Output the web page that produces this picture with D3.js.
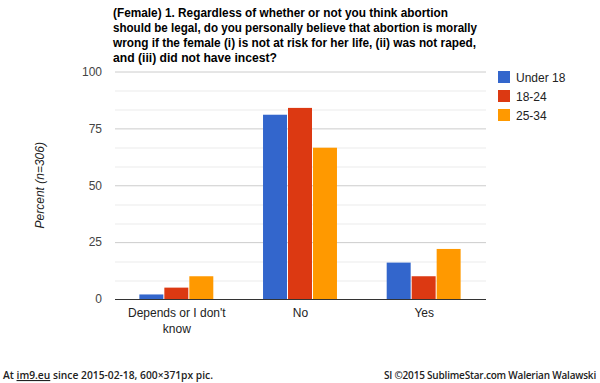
<!DOCTYPE html>
<html>
<head>
<meta charset="utf-8">
<script src="https://cdn.jsdelivr.net/npm/d3@7"></script>
<style>
  body { margin: 0; background: #fff; }
  text { font-family: Arial, "Liberation Sans", sans-serif; }
</style>
</head>
<body>
<div id="chart"></div>
<script>
// data
const categories = ["Depends or I don't know", "No", "Yes"];
const series = ["Under 18", "18-24", "25-34"];
const under18 = [2, 81, 16];
const age18to24 = [5, 84, 10];
const age25to34 = [10, 66.5, 22];
const yTicks = [0, 25, 50, 75, 100];
const titleLines = [
  "(Female) 1. Regardless of whether or not you think abortion",
  "should be legal, do you personally believe that abortion is morally",
  "wrong if the female (i) is not at risk for her life, (ii) was not raped,",
  "and (iii) did not have incest?"
];
const colors = ["#3366cc", "#dc3912", "#ff9900"];

const width = 600, height = 383;
const margin = {top: 71.5, right: 114, bottom: 84, left: 115};
const plotW = width - margin.left - margin.right,
      plotH = height - margin.top - margin.bottom;

const table = categories.map((c, i) => ({
  name: c,
  values: [under18[i], age18to24[i], age25to34[i]]
}));

const root = d3.select("#chart")
  .append("svg")
  .attr("width", width)
  .attr("height", height);

root.append("rect").attr("width", width).attr("height", height).attr("fill", "#fff");

// title, squeezed to the widths seen in the picture
const titleWidths = [335, 364, 363, 164];
root.append("g")
  .selectAll("text")
  .data(titleLines)
  .enter()
  .append("text")
    .attr("x", 113)
    .attr("y", (d, i) => 17 + i * 15)
    .attr("font-size", 12.5)
    .attr("font-weight", "bold")
    .attr("fill", "#000")
    .attr("textLength", (d, i) => titleWidths[i])
    .attr("lengthAdjust", "spacingAndGlyphs")
    .text(d => d);

const svg = root.append("g")
  .attr("transform", `translate(${margin.left},${margin.top})`);

const y = d3.scaleLinear().domain([0, 100]).range([plotH, 0]);

// minor gridlines (thirds between major ticks)
const minor = d3.range(0, 100, 25 / 3).filter((d, i) => i % 3 !== 0);
svg.append("g")
  .selectAll("line")
  .data(minor)
  .enter()
  .append("line")
    .attr("x1", 0).attr("x2", plotW)
    .attr("y1", d => Math.round(y(d)) + 0.5)
    .attr("y2", d => Math.round(y(d)) + 0.5)
    .attr("stroke", "#ebebeb");

// Y axis with major gridlines
const yAxis = svg.append("g")
  .call(d3.axisLeft(y).tickValues(yTicks).tickSize(-plotW).tickPadding(13));
yAxis.select(".domain").remove();
yAxis.selectAll(".tick line").attr("stroke", "#cccccc");
yAxis.selectAll(".tick text")
  .attr("font-size", 12)
  .attr("fill", "#444")
  .attr("font-family", "Arial, 'Liberation Sans', sans-serif");

// X scales
const x0 = d3.scaleBand()
  .domain(categories)
  .range([0, plotW])
  .paddingInner(0.394)
  .paddingOuter(0.197);

const x1 = d3.scaleBand()
  .domain(series)
  .range([0, x0.bandwidth()]);

// bars
svg.append("g")
  .selectAll("g")
  .data(table)
  .enter()
  .append("g")
    .attr("transform", d => `translate(${x0(d.name)},0)`)
  .selectAll("rect")
  .data(d => d.values.map((v, i) => ({key: series[i], value: v, i: i})))
  .enter()
  .append("rect")
    .attr("x", d => x1(d.key))
    .attr("y", d => y(d.value))
    .attr("width", x1.bandwidth() - 1)
    .attr("height", d => y(0) - y(d.value))
    .attr("fill", d => colors[d.i]);

// baseline
svg.append("line")
  .attr("x1", 0).attr("x2", plotW)
  .attr("y1", y(0) + 0.5).attr("y2", y(0) + 0.5)
  .attr("stroke", "#333");

// X axis labels (wrapped like the picture)
const xLabels = {"Depends or I don't know": ["Depends or I don't", "know"]};
const xl = svg.append("g")
  .selectAll("text")
  .data(categories)
  .enter()
  .append("text")
    .attr("x", d => x0(d) + x0.bandwidth() / 2)
    .attr("y", plotH + 18)
    .attr("text-anchor", "middle")
    .attr("font-size", 12)
    .attr("fill", "#222");
xl.selectAll("tspan")
  .data(d => xLabels[d] || [d])
  .enter()
  .append("tspan")
    .attr("x", function() { return d3.select(this.parentNode).attr("x"); })
    .attr("dy", (d, i) => i === 0 ? 0 : 16)
    .text(d => d);

// Y axis title
root.append("text")
  .attr("transform", `translate(44,${margin.top + plotH / 2}) rotate(-90)`)
  .attr("text-anchor", "middle")
  .attr("font-size", 12)
  .attr("font-style", "italic")
  .attr("fill", "#222")
  .text("Percent (n=306)");

// legend
const legend = root.append("g")
  .selectAll("g")
  .data(series)
  .enter()
  .append("g")
    .attr("transform", (d, i) => `translate(498,${71 + i * 19})`);
legend.append("rect")
  .attr("width", 12).attr("height", 12)
  .attr("fill", (d, i) => colors[i]);
legend.append("text")
  .attr("x", 18).attr("y", 10.5)
  .attr("font-size", 12)
  .attr("fill", "#222")
  .text(d => d);

// footer
const foot = root.append("text")
  .attr("x", 3).attr("y", 379)
  .attr("font-size", 11)
  .attr("font-weight", 600)
  .attr("fill", "#222")
  .attr("textLength", 210)
  .attr("lengthAdjust", "spacingAndGlyphs")
  .style("font-family", "'Open Sans', sans-serif");
foot.append("tspan").text("At ");
foot.append("tspan").attr("text-decoration", "underline").text("im9.eu");
foot.append("tspan").text(" since 2015-02-18, 600×371px pic.");

root.append("text")
  .attr("x", 596).attr("y", 379)
  .attr("text-anchor", "end")
  .attr("font-size", 10)
  .attr("font-weight", 600)
  .attr("fill", "#222")
  .style("font-family", "'Open Sans', sans-serif")
  .style("letter-spacing", "-0.2px")
  .text("SI ©2015 SublimeStar.com Walerian Walawski");
</script>
</body>
</html>
